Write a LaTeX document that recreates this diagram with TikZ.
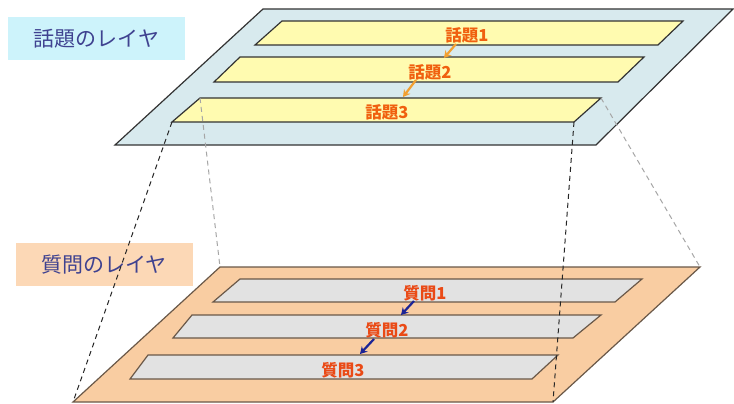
\documentclass[tikz,border=0pt]{standalone}
\usepackage{fontspec}
\newfontfamily\jp{Noto Sans CJK JP}
\usetikzlibrary{arrows.meta}
\definecolor{topplane}{HTML}{D8EAEE}
\definecolor{topstrip}{HTML}{FFFBB0}
\definecolor{botplane}{HTML}{F9CDA2}
\definecolor{botstrip}{HTML}{E2E2E2}
\definecolor{topbox}{HTML}{CDF3FB}
\definecolor{botbox}{HTML}{FCD8B6}
\definecolor{boxtext}{HTML}{3F4290}
\definecolor{toplbl}{HTML}{F0600F}
\definecolor{botlbl}{HTML}{EA4A16}
\definecolor{toparrow}{HTML}{F2A030}
\definecolor{botarrow}{HTML}{1C2496}
\definecolor{topedge}{HTML}{333333}
\definecolor{botedge}{HTML}{6A5848}
\tikzset{
  tplane/.style={fill=topplane, draw=topedge, line width=1.2pt},
  tstrip/.style={fill=topstrip, draw=topedge, line width=1.2pt},
  bplane/.style={fill=botplane, draw=botedge, line width=1.2pt},
  bstrip/.style={fill=botstrip, draw=botedge, line width=1.2pt},
  layerbox/.style={rectangle, minimum width=177pt, minimum height=43pt, inner sep=0pt, text=boxtext, font=\jp\fontsize{21}{24}\selectfont},
  tlabel/.style={text=toplbl, font=\jp\bfseries\fontsize{16.5}{19}\selectfont, inner sep=0pt},
  blabel/.style={text=botlbl, font=\jp\bfseries\fontsize{16.5}{19}\selectfont, inner sep=0pt},
  tarrow/.style={draw=toparrow, line width=2.2pt, -{Stealth[length=7pt,width=8pt]}},
  barrow/.style={draw=botarrow, line width=2.2pt, -{Stealth[length=7pt,width=8pt]}},
  blackdash/.style={draw=black!85, line width=1pt, dash pattern=on 5pt off 4pt},
  graydash/.style={draw=black!35, line width=1pt, dash pattern=on 5pt off 4pt}
}
\begin{document}
\begin{tikzpicture}[x=1pt,y=-1pt]
\useasboundingbox (0,0) rectangle (734,404);
\fill[white] (0,0) rectangle (734,404);
% top plane
\coordinate (TA) at (115,145); \coordinate (TB) at (596,145);
\coordinate (TC) at (733,9); \coordinate (TD) at (263,9);
\draw[tplane] (TA) -- (TB) -- (TC) -- (TD) -- cycle;
\draw[tstrip] (255,45) -- (658,45) -- (683,21) -- (282,21) -- cycle;
\draw[tstrip] (214,82) -- (618,82) -- (644,57) -- (240,57) -- cycle;
\coordinate (S3bl) at (172,122); \coordinate (S3br) at (574,122);
\coordinate (S3tr) at (601,98); \coordinate (S3tl) at (200,98);
\draw[tstrip] (S3bl) -- (S3br) -- (S3tr) -- (S3tl) -- cycle;
\node[tlabel] (t1) at (467,35) {話題1};
\node[tlabel] (t2) at (430,72) {話題2};
\node[tlabel] (t3) at (387,112) {話題3};
\coordinate (ta1s) at (456,44); \coordinate (ta1e) at (444,58);
\coordinate (ta2s) at (416,80); \coordinate (ta2e) at (403,97);
\draw[tarrow] (ta1s) -- (ta1e);
\draw[tarrow] (ta2s) -- (ta2e);
\node[layerbox, fill=topbox] (topname) at (96.5,38.5) {話題のレイヤ};
% bottom plane
\coordinate (BA) at (73,402); \coordinate (BB) at (553,402);
\coordinate (BC) at (700,267); \coordinate (BD) at (220,267);
\node[layerbox, fill=botbox] (botname) at (104,264.5) {質問のレイヤ};
\draw[bplane] (BA) -- (BB) -- (BC) -- (BD) -- cycle;
\draw[bstrip] (213,302) -- (615,302) -- (642,279) -- (240,279) -- cycle;
\draw[bstrip] (173,338) -- (573,338) -- (601,315) -- (192,315) -- cycle;
\draw[bstrip] (130,379) -- (532,379) -- (558,355) -- (148,355) -- cycle;
\node[blabel] (q1) at (425,293) {質問1};
\node[blabel] (q2) at (387,330) {質問2};
\node[blabel] (q3) at (343,370) {質問3};
\coordinate (ba1s) at (414,301); \coordinate (ba1e) at (401,315);
\coordinate (ba2s) at (374,339); \coordinate (ba2e) at (360,354);
\draw[barrow] (ba1s) -- (ba1e);
\draw[barrow] (ba2s) -- (ba2e);
% projection lines
\draw[blackdash] (S3bl) -- (BA);
\draw[blackdash] (S3br) -- (BB);
\draw[graydash] (S3tl) -- (BD);
\draw[graydash] (S3tr) -- (BC);
\end{tikzpicture}
\end{document}
